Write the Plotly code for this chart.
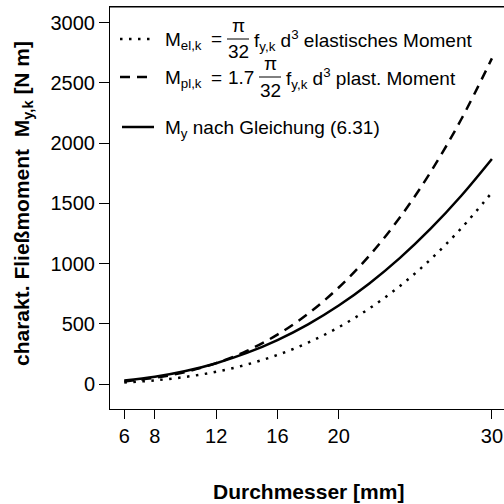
import plotly.graph_objects as go

# Data
diameter = [6, 8, 10, 12, 14, 16, 18, 20, 22, 24, 26, 28, 30]          # mm
m_el = [12.7, 30.2, 58.9, 101.8, 161.6, 241.3, 343.5, 471.2, 627.2, 814.3, 1035.3, 1293.1, 1590.4]
m_pl = [21.6, 51.3, 100.1, 173.1, 274.7, 410.2, 583.9, 801.0, 1066.2, 1384.3, 1760.0, 2198.3, 2703.7]
m_y = [28.5, 60.2, 107.5, 172.6, 257.8, 364.8, 495.5, 651.7, 835.0, 1047.2, 1289.5, 1563.3, 1868.4]
x_ticks = [6, 8, 12, 16, 20, 30]
y_ticks = [0, 500, 1000, 1500, 2000, 2500, 3000]

W, H = 504, 504
L, R, T, B = 110, 0, 7, 95
PW, PH = W - L - R, H - T - B

def px(x):
    return (x - L) / PW

def py(y):
    return (H - B - y) / PH

FONT = "Liberation Sans, Arial, Helvetica, sans-serif"
DOT = "2.5px,6.5px"
DASH = "10px,7px"
LW = 2.5
LF = 19

fig = go.Figure()
fig.add_trace(go.Scatter(x=diameter, y=m_el, mode="lines", line=dict(color="black", width=LW, dash=DOT, shape="spline"), showlegend=False))
fig.add_trace(go.Scatter(x=diameter, y=m_pl, mode="lines", line=dict(color="black", width=LW, dash=DASH, shape="spline"), showlegend=False))
fig.add_trace(go.Scatter(x=diameter, y=m_y, mode="lines", line=dict(color="black", width=LW, shape="spline"), showlegend=False))

fig.update_layout(
    width=W, height=H,
    margin=dict(l=L, r=R, t=T, b=B, autoexpand=False),
    paper_bgcolor="white", plot_bgcolor="white",
    font=dict(family=FONT, size=20, color="black"),
    xaxis=dict(range=[5.067, 30.79], tickvals=x_ticks, ticktext=[str(v) for v in x_ticks],
               ticks="outside", ticklen=9, tickwidth=1, tickcolor="black",
               showline=True, linecolor="black", linewidth=1, mirror=True,
               showgrid=False, zeroline=False, tickfont=dict(size=20)),
    yaxis=dict(range=[-207.6, 3130.4], tickvals=y_ticks, ticktext=[str(v) for v in y_ticks],
               ticksuffix="\u00a0",
               ticks="outside", ticklen=10, tickwidth=1, tickcolor="black",
               showline=True, linecolor="black", linewidth=1, mirror=False,
               showgrid=False, zeroline=False, tickfont=dict(size=20)),
)

ann = []
def text(x, y, s, anchor="left", size=LF, angle=0):
    ann.append(dict(x=px(x), y=py(y), xref="paper", yref="paper", text=s, showarrow=False,
                    xanchor=anchor, yanchor="middle", textangle=angle,
                    font=dict(family=FONT, size=size, color="black")))

shapes = [dict(type="line", xref="paper", yref="paper", x0=0, x1=1, y0=1, y1=1,
               line=dict(color="black", width=1))]
def hline(x0, x1, y, dash="solid", width=1.0):
    shapes.append(dict(type="line", xref="paper", yref="paper", x0=px(x0), x1=px(x1), y0=py(y), y1=py(y),
                       line=dict(color="black", width=width, dash=dash)))

# Legend row 1
hline(120, 150, 39, DOT, LW)
text(163, 41, "M<sub>el,k</sub>")
text(216, 39, "=", "center")
text(238, 26, "π", "center")
hline(227, 249, 39)
text(238, 52, "32", "center")
text(252, 41, "f<sub>y,k</sub> d<sup>3</sup> elastisches Moment")

# Legend row 2
hline(120, 152, 77, DASH, LW)
text(163, 79, "M<sub>pl,k</sub>")
text(216, 77, "=", "center")
text(226, 77, "1.7")
text(270, 64, "π", "center")
hline(259, 281, 77)
text(270, 90, "32", "center")
text(284, 79, "f<sub>y,k</sub> d<sup>3</sup> plast. Moment")

# Legend row 3
hline(122, 154, 127, "solid", LW)
text(163, 129, "M<sub>y</sub> nach Gleichung (6.31)")

# Axis titles
text(308, 491, "<b>Durchmesser [mm]</b>", "center", 21)
text(23, 204, "<b>charakt. Fließmoment  M<sub>y,k</sub> [N m]</b>", "center", 21, -90)

fig.update_layout(annotations=ann, shapes=shapes)
fig.write_html("out.html", config={"displayModeBar": False},
               post_script="document.body.style.margin='0';document.body.style.overflow='hidden';")
